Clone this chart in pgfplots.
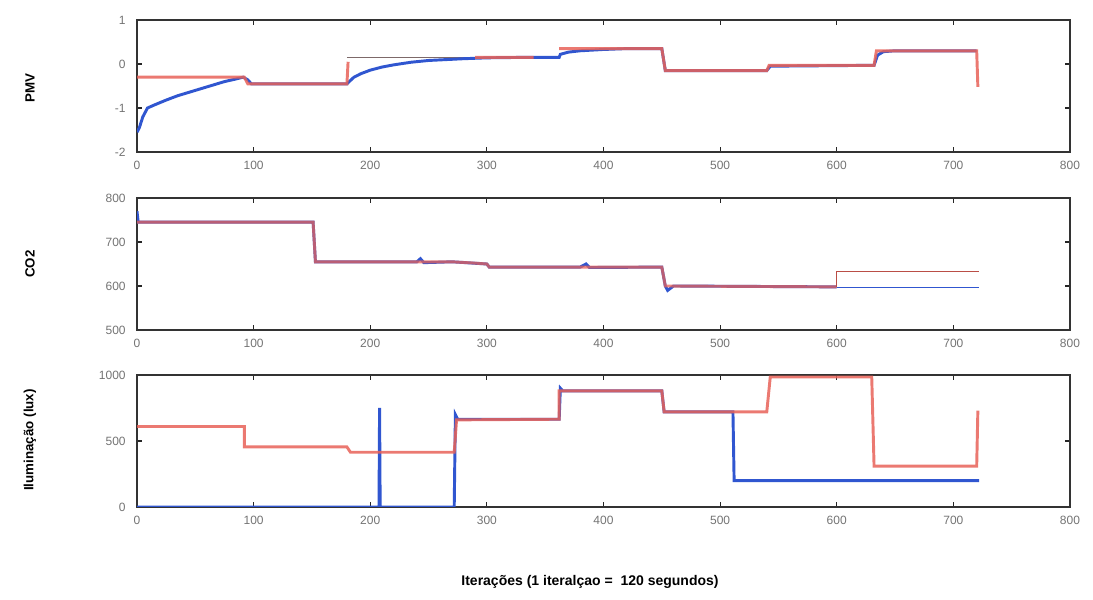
\documentclass[border=0pt]{standalone}
\usepackage{fontspec}
\setmainfont{Liberation Sans}
\usepackage{pgfplots}
\pgfplotsset{compat=1.18}

\definecolor{sim}{RGB}{232,98,88}
\definecolor{real}{RGB}{48,86,208}
\definecolor{ref}{RGB}{125,105,105}

\pgfplotsset{
  painel/.style={
    scale only axis,
    width=699.75pt, height=99pt,
    xmin=0, xmax=800,
    xtick={0,100,...,800},
    axis line style={black!80, line width=1pt},
    tick style={black!85, line width=0.8pt},
    major tick length=3.5pt,
    tick pos=both,
    ticklabel style={font=\fontsize{9}{10}\selectfont, text=black!55},
    xticklabel style={yshift=-3pt},
    yticklabel style={xshift=-5pt},
    /pgf/number format/assume math mode=true,
    /pgf/number format/1000 sep={},
    unbounded coords=jump,
    clip=true,
  },
}

\begin{document}
\begin{tikzpicture}
\path[use as bounding box] (0,0) rectangle (819.75pt,450pt);

% PMV
\begin{axis}[painel, at={(102.75pt,435pt)}, anchor=north west,
  ymin=-2, ymax=1, ytick={-2,-1,0,1}]
  \addplot[ref, line width=0.7pt] coordinates {(180,0.15) (362,0.15)};
  \addplot[real, line width=2.2pt] coordinates {
    (0,-1.55) (2,-1.45) (5,-1.2) (9,-1.0) (15,-0.93) (25,-0.82) (35,-0.72)
    (45,-0.64) (55,-0.56) (65,-0.48) (75,-0.40) (85,-0.34) (91,-0.30)
    (95,-0.36) (98,-0.45) (150,-0.45) (180,-0.45) (182,-0.40) (186,-0.30)
    (192,-0.22) (200,-0.14) (210,-0.07) (220,-0.02) (235,0.04) (250,0.08)
    (265,0.10) (280,0.12) (300,0.14) (330,0.15) (362,0.15) (363,0.22)
    (370,0.27) (380,0.30) (400,0.33) (420,0.35) (450,0.35) (453,-0.15)
    (540,-0.15) (543,-0.05) (632,-0.03) (635,0.2) (640,0.28) (650,0.3) (720,0.3)};
  \addplot[sim, line width=2.2pt, opacity=0.85] coordinates {
    (0,-0.3) (92,-0.3) (95,-0.45) (180,-0.45) (181,0.05) (181,nan)
    (290,0.15) (340,0.15) (341,nan)
    (362,0.35) (450,0.35) (453,-0.15) (540,-0.15) (542,-0.03) (632,-0.03)
    (634,0.3) (720,0.3) (721,-0.52)};
\end{axis}

% CO2
\begin{axis}[painel, at={(102.75pt,301.5pt)}, anchor=north west,
  ymin=500, ymax=800, ytick={500,600,700,800}]
  \addplot[real, line width=2.2pt] coordinates {
    (0,770) (1,745) (151,745) (153,655) (240,655) (243,662) (246,653)
    (270,655) (300,650) (302,643) (380,643) (385,650) (388,642) (450,643)
    (453,600) (455,590) (460,600) (600,598)};
  \addplot[real, line width=0.7pt] coordinates {(600,597) (722,597)};
  \addplot[sim, line width=2.2pt, opacity=0.75] coordinates {
    (0,745) (151,745) (153,655) (240,655) (270,655) (290,652) (300,650)
    (302,643) (450,643) (453,600) (600,598)};
  \addplot[sim!80!black, line width=0.7pt] coordinates {(600,598) (600,633) (722,633)};
\end{axis}

% Iluminacao
\begin{axis}[painel, at={(102.75pt,168.75pt)}, anchor=north west,
  ymin=0, ymax=1000, ytick={0,500,1000}]
  \addplot[real, line width=2.2pt] coordinates {
    (0,0) (207.5,0) (208,750) (208.5,0) (272,0) (273,700) (275,665) (362,665)
    (363,900) (365,880) (450,880) (452,720) (511,720) (512,200) (722,200)};
  \addplot[sim, line width=2.2pt, opacity=0.85] coordinates {
    (0,610) (92,610) (92,455) (180,455) (183,415) (272,415) (274,660)
    (362,665) (362,880) (450,880) (452,720) (540,720) (543,985) (630,985)
    (632,310) (720,310) (721,730)};
\end{axis}

\node[rotate=90, font=\fontsize{10}{12}\selectfont\bfseries] at (22.5pt,384pt) {PMV};
\node[rotate=90, font=\fontsize{10}{12}\selectfont\bfseries] at (22.5pt,252pt) {CO2};
\node[rotate=90, font=\fontsize{10}{12}\selectfont\bfseries] at (22.5pt,120pt) {Iluminação (lux)};
\node[font=\fontsize{10.5}{12}\selectfont\bfseries] at (442.5pt,13.5pt)
  {Iterações (1 iteralçao =~ 120 segundos)};
\end{tikzpicture}
\end{document}
